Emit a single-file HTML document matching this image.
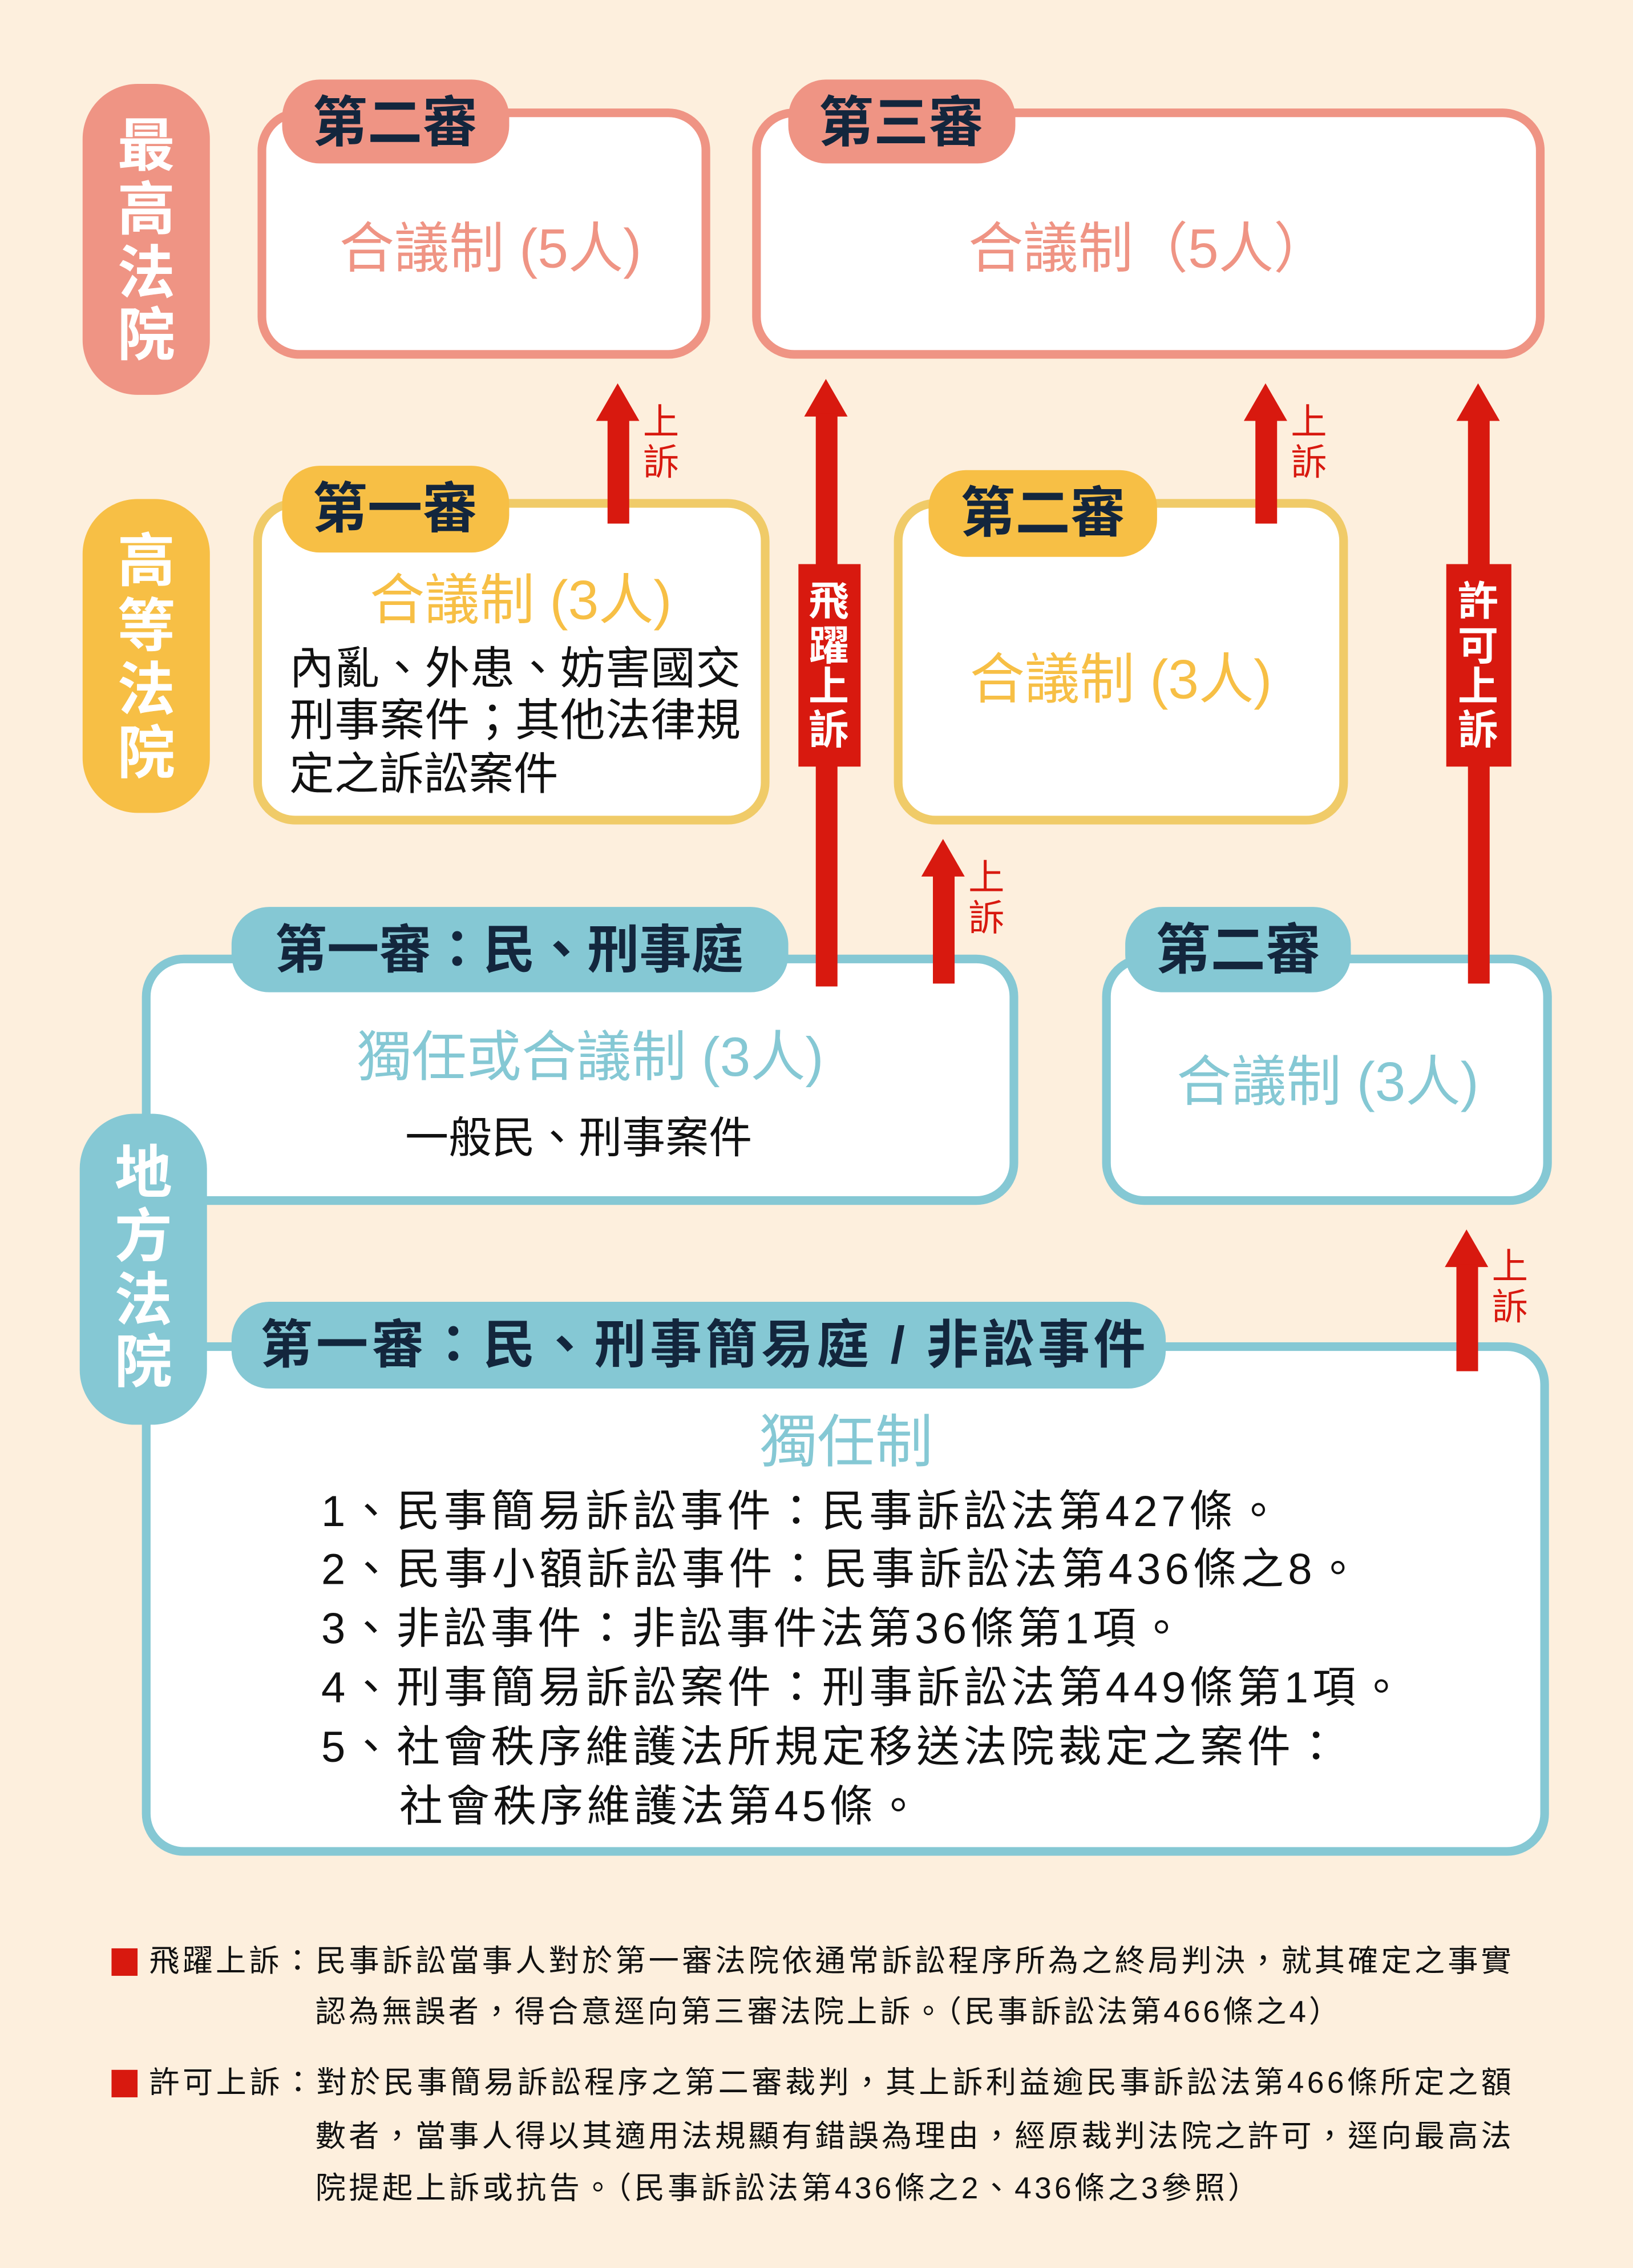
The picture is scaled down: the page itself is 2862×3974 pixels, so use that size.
<!DOCTYPE html>
<html><head><meta charset="utf-8"><style>
html,body{margin:0;padding:0;background:#fdefdd;}
svg{display:block}
text{font-family:"Liberation Sans","Noto Sans CJK TC",sans-serif;}
</style></head><body>
<svg width="2862" height="3974" viewBox="0 0 1129 1568" xmlns="http://www.w3.org/2000/svg">
<rect width="1129" height="1568" fill="#fdefdd"/>
<defs>
<g id="arr"><polygon points="0,0 15,26 -15,26" fill="#d8190f"/></g>
</defs>

<!-- side pills -->
<rect x="57" y="58" width="88" height="215" rx="38" fill="#ef9484"/>
<g font-size="40" font-weight="bold" fill="#fff" text-anchor="middle" dominant-baseline="central">
<text x="101" y="101">最</text><text x="101" y="145">高</text><text x="101" y="189">法</text><text x="101" y="232">院</text>
</g>
<rect x="57" y="345" width="88" height="217" rx="38" fill="#f7bf45"/>
<g font-size="40" font-weight="bold" fill="#fff" text-anchor="middle" dominant-baseline="central">
<text x="101" y="388">高</text><text x="101" y="433">等</text><text x="101" y="477">法</text><text x="101" y="521">院</text>
</g>

<!-- supreme boxes -->
<rect x="181" y="78" width="307" height="167" rx="26" fill="#fff" stroke="#ef9484" stroke-width="6"/>
<rect x="195" y="55" width="157" height="58" rx="26" fill="#ef9484"/>
<text x="273" y="85" font-size="38" font-weight="bold" fill="#13263d" text-anchor="middle" dominant-baseline="central">第二審</text>
<text x="339" y="172" font-size="38" fill="#ef9484" text-anchor="middle" dominant-baseline="central">合議制 (5人)</text>

<rect x="523" y="78" width="542" height="167" rx="26" fill="#fff" stroke="#ef9484" stroke-width="6"/>
<rect x="545" y="55" width="157" height="58" rx="26" fill="#ef9484"/>
<text x="623" y="85" font-size="38" font-weight="bold" fill="#13263d" text-anchor="middle" dominant-baseline="central">第三審</text>
<text x="794" y="172" font-size="38" fill="#ef9484" text-anchor="middle" dominant-baseline="central">合議制（5人）</text>

<!-- high court boxes -->
<rect x="178" y="348" width="351" height="219" rx="26" fill="#fff" stroke="#f0cb68" stroke-width="6"/>
<rect x="195" y="322" width="157" height="60" rx="26" fill="#f7bf45"/>
<text x="273" y="352" font-size="38" font-weight="bold" fill="#13263d" text-anchor="middle" dominant-baseline="central">第一審</text>
<text x="360" y="415" font-size="38" fill="#f7bf45" text-anchor="middle" dominant-baseline="central">合議制 (3人)</text>
<g font-size="31" fill="#111" dominant-baseline="central">
<text x="200" y="462" textLength="312">內亂、外患、妨害國交</text>
<text x="200" y="498" textLength="312">刑事案件；其他法律規</text>
<text x="200" y="535">定之訴訟案件</text>
</g>

<rect x="621" y="348" width="308" height="219" rx="26" fill="#fff" stroke="#f0cb68" stroke-width="6"/>
<rect x="642" y="325" width="158" height="60" rx="26" fill="#f7bf45"/>
<text x="721" y="355" font-size="38" font-weight="bold" fill="#13263d" text-anchor="middle" dominant-baseline="central">第二審</text>
<text x="775" y="470" font-size="38" fill="#f7bf45" text-anchor="middle" dominant-baseline="central">合議制 (3人)</text>

<!-- district boxes -->
<rect x="101" y="663" width="600" height="167" rx="26" fill="#fff" stroke="#85c8d4" stroke-width="6"/>
<rect x="160" y="627" width="385" height="59" rx="26" fill="#85c8d4"/>
<text x="352" y="657" font-size="36" font-weight="bold" fill="#13263d" text-anchor="middle" dominant-baseline="central">第一審：民、刑事庭</text>
<text x="408" y="731" font-size="38" fill="#85c8d4" text-anchor="middle" dominant-baseline="central">獨任或合議制 (3人)</text>
<text x="400" y="787" font-size="30" fill="#111" text-anchor="middle" dominant-baseline="central">一般民、刑事案件</text>

<rect x="765" y="663" width="305" height="167" rx="26" fill="#fff" stroke="#85c8d4" stroke-width="6"/>
<rect x="778" y="627" width="156" height="59" rx="26" fill="#85c8d4"/>
<text x="856" y="657" font-size="38" font-weight="bold" fill="#13263d" text-anchor="middle" dominant-baseline="central">第二審</text>
<text x="918" y="748" font-size="38" fill="#85c8d4" text-anchor="middle" dominant-baseline="central">合議制 (3人)</text>

<rect x="101" y="931" width="967" height="349" rx="26" fill="#fff" stroke="#85c8d4" stroke-width="6"/>
<rect x="160" y="900" width="646" height="60" rx="26" fill="#85c8d4"/>
<text x="486" y="930" font-size="36" font-weight="bold" fill="#13263d" text-anchor="middle" dominant-baseline="central" textLength="612">第一審：民、刑事簡易庭 / 非訟事件</text>
<text x="585" y="997" font-size="40" fill="#85c8d4" text-anchor="middle" dominant-baseline="central">獨任制</text>
<g font-size="30" fill="#111" dominant-baseline="central">
<text x="222" y="1045" textLength="663">1、民事簡易訴訟事件：民事訴訟法第427條。</text>
<text x="222" y="1085" textLength="718">2、民事小額訴訟事件：民事訴訟法第436條之8。</text>
<text x="222" y="1126" textLength="596">3、非訟事件：非訟事件法第36條第1項。</text>
<text x="222" y="1167" textLength="748">4、刑事簡易訴訟案件：刑事訴訟法第449條第1項。</text>
<text x="222" y="1208" textLength="703">5、社會秩序維護法所規定移送法院裁定之案件：</text>
<text x="276" y="1249" textLength="360">社會秩序維護法第45條。</text>
</g>

<rect x="55" y="770" width="88" height="215" rx="38" fill="#85c8d4"/>
<g font-size="40" font-weight="bold" fill="#fff" text-anchor="middle" dominant-baseline="central">
<text x="99" y="811">地</text><text x="99" y="855">方</text><text x="99" y="899">法</text><text x="99" y="942">院</text>
</g>

<!-- arrows -->
<use href="#arr" x="427" y="265"/><rect x="420" y="289" width="15" height="73" fill="#d8190f"/>
<use href="#arr" x="571" y="262"/><rect x="564" y="286" width="15" height="396" fill="#d8190f"/>
<use href="#arr" x="875" y="265"/><rect x="868" y="289" width="15" height="73" fill="#d8190f"/>
<use href="#arr" x="1022" y="265"/><rect x="1015" y="289" width="15" height="391" fill="#d8190f"/>
<use href="#arr" x="652" y="580"/><rect x="645" y="604" width="15" height="76" fill="#d8190f"/>
<use href="#arr" x="1014" y="850"/><rect x="1007" y="874" width="15" height="74" fill="#d8190f"/>

<rect x="552" y="390" width="43" height="140" fill="#d8190f"/>
<rect x="1000" y="390" width="45" height="140" fill="#d8190f"/>
<g font-size="28" font-weight="bold" fill="#fff" text-anchor="middle" dominant-baseline="central">
<text x="573" y="416">飛</text><text x="573" y="447">躍</text><text x="573" y="475">上</text><text x="573" y="505">訴</text>
<text x="1022" y="416">許</text><text x="1022" y="447">可</text><text x="1022" y="475">上</text><text x="1022" y="505">訴</text>
</g>
<g font-size="25" fill="#d8190f" text-anchor="middle" dominant-baseline="central">
<text x="457" y="292">上</text><text x="457" y="320">訴</text>
<text x="905" y="292">上</text><text x="905" y="320">訴</text>
<text x="682" y="607">上</text><text x="682" y="635">訴</text>
<text x="1044" y="876">上</text><text x="1044" y="904">訴</text>
</g>

<!-- footnotes -->
<rect x="77" y="1347" width="18" height="19" fill="#d8190f"/>
<rect x="77" y="1431" width="18" height="19" fill="#d8190f"/>
<g font-size="21" fill="#111" dominant-baseline="central">
<text x="103" y="1356" textLength="942">飛躍上訴：民事訴訟當事人對於第一審法院依通常訴訟程序所為之終局判決，就其確定之事實</text>
<text x="218" y="1391" textLength="708">認為無誤者，得合意逕向第三審法院上訴。（民事訴訟法第466條之4）</text>
<text x="103" y="1440" textLength="942">許可上訴：對於民事簡易訴訟程序之第二審裁判，其上訴利益逾民事訴訟法第466條所定之額</text>
<text x="218" y="1477" textLength="827">數者，當事人得以其適用法規顯有錯誤為理由，經原裁判法院之許可，逕向最高法</text>
<text x="218" y="1513" textLength="652">院提起上訴或抗告。（民事訴訟法第436條之2、436條之3參照）</text>
</g>
</svg>
</body></html>
